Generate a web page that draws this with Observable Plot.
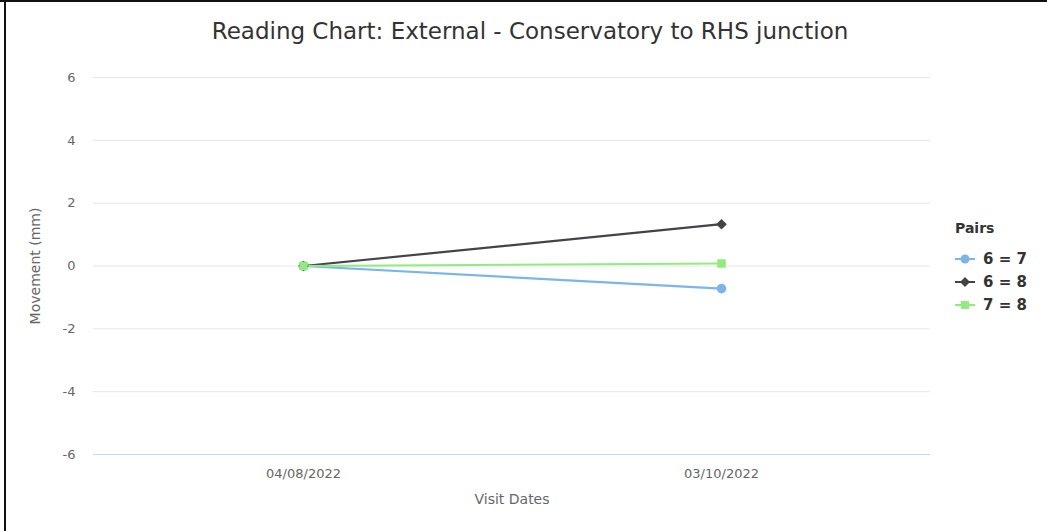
<!DOCTYPE html>
<html>
<head>
<meta charset="utf-8">
<script src="https://cdn.jsdelivr.net/npm/d3@7"></script>
<script src="https://cdn.jsdelivr.net/npm/@observablehq/plot@0.6"></script>
<style>
  html, body { margin: 0; padding: 0; background: #fff; }
  body { width: 1047px; height: 531px; position: relative; overflow: hidden; font-family: "DejaVu Sans", sans-serif; }
  #chart { position: absolute; left: 0; top: 0; }
  .frame-top { position: absolute; left: 0; top: 0; width: 1047px; height: 2px; background: #111; }
  .frame-left { position: absolute; left: 4px; top: 0; width: 2px; height: 531px; background: #111; }
  #legend { position: absolute; left: 955px; top: 220px; color: #333; }
  #legend .title { font-weight: bold; font-size: 14px; margin-bottom: 11px; }
  #legend .item { display: flex; align-items: center; height: 23px; font-weight: bold; font-size: 15px; }
  #legend svg { margin-right: 8px; }
</style>
</head>
<body>
<div id="chart"></div>
<div class="frame-top"></div>
<div class="frame-left"></div>
<div id="legend"></div>
<script>
const title = "Reading Chart: External - Conservatory to RHS junction";
const dates = ["04/08/2022", "03/10/2022"];
const seriesNames = ["6 = 7", "6 = 8", "7 = 8"];
const seriesColors = ["#7cb5ec", "#434348", "#90ed7d"];
const seriesSymbols = ["circle", "diamond2", "square"];
const values67 = [0, -0.72];
const values68 = [0, 1.33];
const values78 = [0, 0.08];
const yTicks = [-6, -4, -2, 0, 2, 4, 6];
const gridTicks = [-4, -2, 0, 2, 4, 6];

const seriesValues = [values67, values68, values78];
const data = [];
seriesNames.forEach((name, i) => {
  dates.forEach((d, j) => data.push({ series: name, date: d, value: seriesValues[i][j] }));
});

const W = 1047, H = 531;
const plot = Plot.plot({
  width: W,
  height: H,
  marginLeft: 93,
  marginRight: 117,
  marginTop: 77,
  marginBottom: 77,
  style: { fontFamily: "DejaVu Sans, sans-serif", background: "transparent", overflow: "visible" },
  x: { type: "point", domain: dates, padding: 0.5, label: null },
  y: { domain: [-6, 6], ticks: yTicks, label: null },
  color: { domain: seriesNames, range: seriesColors },
  symbol: { domain: seriesNames, range: seriesSymbols },
  marks: [
    Plot.ruleY(gridTicks, { stroke: "#e6e6e6", strokeWidth: 1 }),
    Plot.ruleY([-6], { stroke: "#ccd6eb", strokeWidth: 1 }),
    Plot.axisY({ ticks: yTicks, tickSize: 0, tickPadding: 18, fontSize: 13, fill: "#666", label: null, tickFormat: d => String(d) }),
    Plot.axisX({ tickSize: 0, tickPadding: 14, fontSize: 13, fill: "#666", label: null }),
    Plot.line(data, { x: "date", y: "value", z: "series", stroke: "series", strokeWidth: 2.2 }),
    Plot.dot(data, { x: "date", y: "value", fill: "series", symbol: "series", r: 4.8, stroke: null }),
    Plot.text([title], { frameAnchor: "top", dy: -55, dx: 18, fontSize: 23, fill: "#333" }),
    Plot.text(["Visit Dates"], { frameAnchor: "bottom", dy: 49, fontSize: 14, fill: "#666" }),
    Plot.text(["Movement (mm)"], { frameAnchor: "left", textAnchor: "middle", dx: -58, rotate: -90, fontSize: 14, fill: "#666" })
  ]
});
document.getElementById("chart").appendChild(plot);

// Legend
const legend = d3.select("#legend");
legend.append("div").attr("class", "title").text("Pairs");
seriesNames.forEach((name, i) => {
  const item = legend.append("div").attr("class", "item");
  const s = item.append("svg").attr("width", 20).attr("height", 12);
  s.append("line").attr("x1", 0).attr("x2", 20).attr("y1", 6).attr("y2", 6)
    .attr("stroke", seriesColors[i]).attr("stroke-width", 2);
  const sym = { circle: d3.symbolCircle, diamond2: d3.symbolDiamond2, square: d3.symbolSquare }[seriesSymbols[i]];
  s.append("path").attr("transform", "translate(10,6)")
    .attr("d", d3.symbol(sym, 64)).attr("fill", seriesColors[i]);
  item.append("span").text(name);
});
</script>
</body>
</html>
